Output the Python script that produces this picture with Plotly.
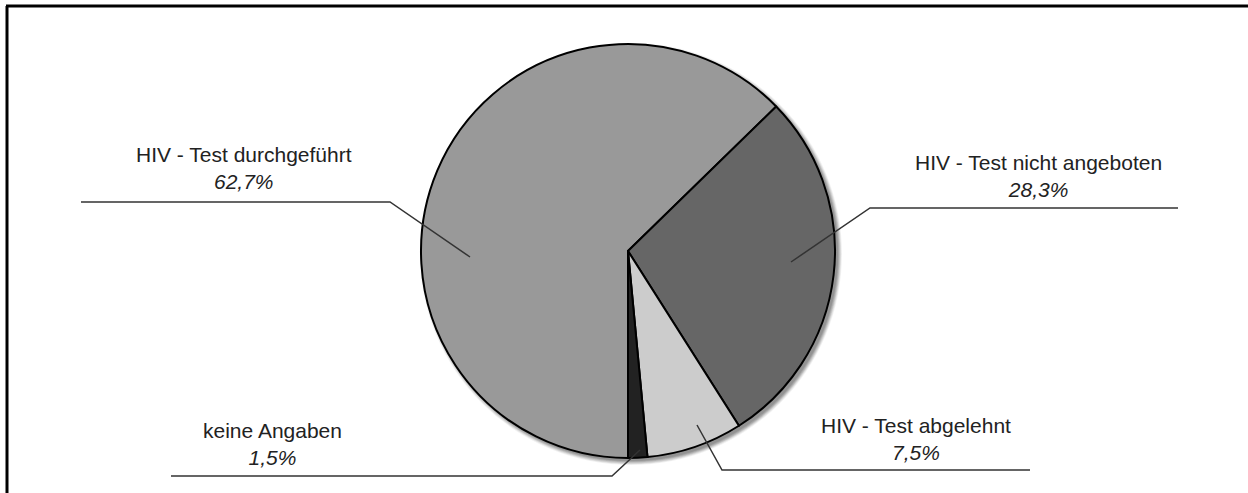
import plotly.graph_objects as go

# Survey result: HIV test status
labels = ["HIV - Test durchgeführt", "HIV - Test nicht angeboten",
          "HIV - Test abgelehnt", "keine Angaben"]
values = [62.7, 28.3, 7.5, 1.5]
colors = ["#999999", "#666666", "#cccccc", "#222222"]

W, H = 1248, 493
CX, CY, R = 628, 251, 207  # pie centre and radius in pixels


def px(x):
    return x / W


def py(y):
    return 1 - y / H


# label block centres and leader polylines (pixels)
label_pos = [(244, 168), (1038, 176), (916, 439), (272, 444)]
leaders = [
    [(81, 202), (390, 202), (470, 257)],
    [(1178, 208), (870, 208), (791, 262)],
    [(1030, 470), (722, 470), (697, 425)],
    [(171, 476), (612, 476), (640, 450)],
]

fig = go.Figure(go.Pie(
    labels=labels,
    values=values,
    sort=False,
    direction="clockwise",
    rotation=180,
    marker=dict(colors=colors, line=dict(color="#000000", width=2)),
    textinfo="none",
    hoverinfo="label+percent",
    showlegend=False,
    domain=dict(x=[px(CX - R), px(CX + R)], y=[py(CY + R), py(CY - R)]),
))

shapes = []
# soft drop shadow behind the pie
for i, a in enumerate([0.10, 0.10, 0.10, 0.09, 0.07, 0.05]):
    rr = R + i * 0.8
    ox, oy = CX + 3, CY + 3
    shapes.append(dict(type="circle", xref="paper", yref="paper", layer="below",
                       x0=px(ox - rr), x1=px(ox + rr), y0=py(oy + rr), y1=py(oy - rr),
                       fillcolor=f"rgba(0,0,0,{a})", line=dict(width=0)))

# leader lines
for pts in leaders:
    path = "M " + " L ".join(f"{px(x)},{py(y)}" for x, y in pts)
    shapes.append(dict(type="path", xref="paper", yref="paper", path=path,
                       line=dict(color="#333333", width=1.5)))

# chart frame (left and top edges)
shapes.append(dict(type="line", xref="paper", yref="paper",
                   x0=px(7), x1=px(7), y0=py(6), y1=py(H + 5),
                   line=dict(color="#000000", width=3)))
shapes.append(dict(type="line", xref="paper", yref="paper",
                   x0=px(6), x1=px(W + 5), y0=py(6), y1=py(6),
                   line=dict(color="#000000", width=3)))

annotations = []
for (x, y), lab, v in zip(label_pos, labels, values):
    pct = f"{v:.1f}".replace(".", ",") + "%"
    annotations.append(dict(
        xref="paper", yref="paper", x=px(x), y=py(y),
        xanchor="center", yanchor="middle", showarrow=False,
        text=f"{lab}<br><i>{pct}</i>", align="center",
        font=dict(family="Liberation Sans, Arial, sans-serif", size=21, color="#222222"),
    ))

fig.update_layout(
    width=W, height=H,
    margin=dict(l=0, r=0, t=0, b=0),
    paper_bgcolor="#ffffff",
    plot_bgcolor="#ffffff",
    shapes=shapes,
    annotations=annotations,
)

fig.write_html("out.html")
